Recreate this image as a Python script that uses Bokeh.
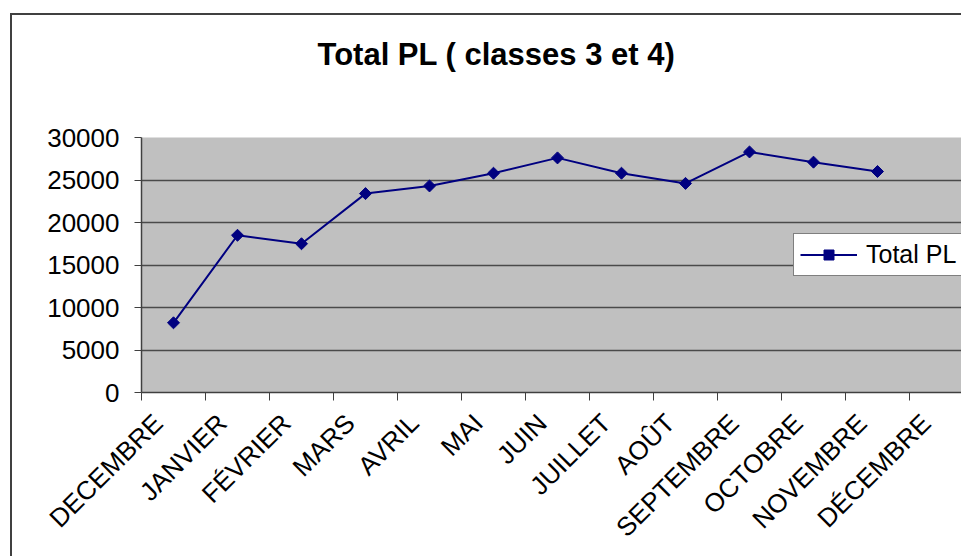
import math
from bokeh.plotting import figure
from bokeh.models import Range1d, FixedTicker, Legend, LegendItem
from bokeh.embed import file_html
from bokeh.resources import INLINE

# ---- data ----
months = ["DECEMBRE", "JANVIER", "FÉVRIER", "MARS", "AVRIL", "MAI", "JUIN",
          "JUILLET", "AOÛT", "SEPTEMBRE", "OCTOBRE", "NOVEMBRE", "DÉCEMBRE"]
total_pl = [8200, 18500, 17500, 23400, 24300, 25800, 27600, 25800, 24600,
            28300, 27100, 26000]
y_ticks = [0, 5000, 10000, 15000, 20000, 25000, 30000]
title_text = "Total PL ( classes 3 et 4)"
series_name = "Total PL"

# ---- layout ----
FONT = "Liberation Sans"
W, H = 961, 556
FRAME_LEFT, FRAME_TOP, FRAME_BOTTOM = 141, 137, 393
CAT_W = 64.0
LABEL_SHIFT = 0.24
x_end = (W - FRAME_LEFT) / CAT_W

xs = [i + 0.5 for i in range(len(total_pl))]
label_pos = [i + 0.5 - LABEL_SHIFT for i in range(len(months))]

p = figure(width=W, height=H, output_backend="svg", toolbar_location=None,
           x_range=Range1d(0, x_end), y_range=Range1d(0, 30000),
           min_border_left=FRAME_LEFT, min_border_top=FRAME_TOP,
           min_border_bottom=H - FRAME_BOTTOM, min_border_right=0,
           background_fill_color="#c0c0c0",
           border_fill_color="white", border_fill_alpha=0,
           outline_line_color=None)

# outer chart-area frame: only its left and top edges fall inside the window
p.styles = {
    "background": ("linear-gradient(#404040, #404040) 10px 13px / 2px 3000px no-repeat, "
                   "linear-gradient(#404040, #404040) 10px 13px / 3000px 2px no-repeat, "
                   "white"),
}

# title
p.title.text = title_text
p.title.text_font = FONT
p.title.text_font_size = "31px"
p.title.text_font_style = "bold"
p.title.text_color = "black"
p.title.align = "left"
p.title.vertical_align = "top"
p.title.offset = 176
p.title.standoff = 0
p.title.padding = (0, 0, 0, 64)

# grids
p.xgrid.visible = False
p.ygrid.grid_line_color = "#4a4a4a"
p.ygrid.grid_line_width = 1.5
p.ygrid.ticker = FixedTicker(ticks=y_ticks)

# y axis
ya = p.yaxis[0]
ya.ticker = FixedTicker(ticks=y_ticks)
ya.axis_line_color = "#404040"
ya.axis_line_width = 1.5
ya.major_tick_line_color = "#404040"
ya.major_tick_out = 7
ya.major_tick_in = 0
ya.minor_tick_line_color = None
ya.major_label_standoff = 15
ya.major_label_text_font = FONT
ya.major_label_text_font_size = "26px"
ya.major_label_text_color = "black"

# x axis
xa = p.xaxis[0]
xa.ticker = FixedTicker(ticks=label_pos, minor_ticks=list(range(len(months) + 1)))
xa.major_label_overrides = {pos: m for pos, m in zip(label_pos, months)}
xa.axis_line_color = "#404040"
xa.axis_line_width = 1.5
xa.major_tick_line_color = None
xa.major_tick_out = 0
xa.major_tick_in = 0
xa.minor_tick_line_color = "#404040"
xa.minor_tick_out = 8
xa.minor_tick_in = 0
xa.major_label_orientation = math.pi / 4
xa.major_label_standoff = 18
xa.major_label_text_font = FONT
xa.major_label_text_font_size = "26px"
xa.major_label_text_color = "black"

# series
ln = p.line(xs, total_pl, line_color="#000080", line_width=2)
mk = p.scatter(xs, total_pl, marker="square", angle=math.pi / 4, size=8.5,
               fill_color="#000080", line_color="#000080")

legend = Legend(items=[LegendItem(label=series_name, renderers=[ln, mk])],
                location=(652, 116), margin=0, padding=6, spacing=0,
                glyph_width=57, glyph_height=25, label_height=25,
                label_standoff=9, label_text_font=FONT,
                label_text_font_size="25px", label_text_color="black",
                border_line_color="black", border_line_width=1,
                background_fill_color="white", background_fill_alpha=1.0)
p.add_layout(legend)

open("out.html", "w").write(file_html(p, INLINE))
